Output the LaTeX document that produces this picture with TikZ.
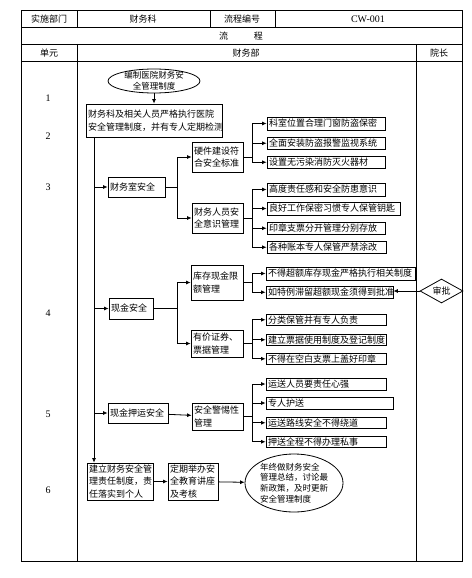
\documentclass[tikz,border=0pt]{standalone}
\usepackage{fontspec}
\setmainfont{Liberation Serif}
\newfontfamily\cn{Noto Sans CJK SC}
\usetikzlibrary{arrows.meta,shapes.geometric}
\newcommand\mybox[6]{%
  \pgfmathsetmacro\bw{#4-#2}\pgfmathsetmacro\bh{#5-#3}\pgfmathsetmacro\tw{#4-#2-4}%
  \node[box, minimum width=\bw pt, minimum height=\bh pt, text width=\tw pt] (#1) at ({(#2+#4)/2},{(#3+#5)/2}) {#6};}
\begin{document}
\begin{tikzpicture}[x=1pt,y=-1pt,
  box/.style={draw, line width=0.8pt, inner sep=0pt, align=left, font=\cn\fontsize{9}{12.5}\selectfont},
  oval/.style={ellipse, draw, line width=0.8pt, inner xsep=0pt, inner ysep=-2.5pt, font=\cn\fontsize{8.5}{10.8}\selectfont},
  arr/.style={-{Latex[length=4.5pt,width=4pt]}, line width=0.8pt},
  ln/.style={line width=0.8pt},
  tb/.style={line width=0.9pt},
  hd/.style={font=\cn\fontsize{9}{11}\selectfont, inner sep=0pt},
  num/.style={font=\fontsize{10}{12}\selectfont, inner sep=0pt}]
\useasboundingbox (0,0) rectangle (471,578);
\fill[white] (0,0) rectangle (471,578);
% table
\draw[tb] (21,10.5) rectangle (462,561);
\draw[tb] (21,27.5) -- (462,27.5) (21,44) -- (462,44) (21,61.5) -- (462,61.5);
\draw[tb] (77,10.5) -- (77,27.5) (210,10.5) -- (210,27.5) (275,10.5) -- (275,27.5);
\draw[tb] (77,44) -- (77,561) (416,44) -- (416,561);
\node[hd] (h1) at (49,19) {实施部门};
\node[hd] (h2) at (143,19) {财务科};
\node[hd] (h3) at (242,19) {流程编号};
\node[hd, font=\fontsize{10}{11}\selectfont] (h4) at (368,19) {CW-001};
\node[hd] (h5) at (241,36) {流\hspace{26pt}程};
\node[hd] (h6) at (49,53) {单元};
\node[hd] (h7) at (246,53) {财务部};
\node[hd] (h8) at (439,53) {院长};
\node[num] (n1) at (48,98) {1};
\node[num] (n2) at (48,136) {2};
\node[num] (n3) at (48,187) {3};
\node[num] (n4) at (48,313) {4};
\node[num] (n5) at (48,414) {5};
\node[num] (n6) at (48,490) {6};
% nodes
\node[oval, minimum width=92pt, minimum height=24pt, align=center] (e1) at (154,81) {编制医院财务安\\全管理制度};
\mybox{b0}{86}{104}{222}{137}{财务科及相关人员严格执行医院\\安全管理制度，并有专人定期检测}
\mybox{fs}{108}{177}{165}{197}{财务室安全}
\mybox{hw}{192}{142}{243}{172}{硬件建设符\\合安全标准}
\mybox{pm}{192}{203}{243}{233}{财务人员安\\全意识管理}
\mybox{a1}{267}{117}{385}{130}{科室位置合理门窗防盗保密}
\mybox{a2}{267}{137}{385}{149.5}{全面安装防盗报警监视系统}
\mybox{a3}{267}{156}{385}{168.5}{设置无污染消防灭火器材}
\mybox{b1}{267}{183}{385}{196}{高度责任感和安全防患意识}
\mybox{b2}{267}{202}{400}{215}{良好工作保密习惯专人保管钥匙}
\mybox{b3}{267}{222}{385}{234.5}{印章支票分开管理分别存放}
\mybox{b4}{267}{241}{386}{253.5}{各种账本专人保管严禁涂改}
\mybox{cs}{109}{298}{153}{319}{现金安全}
\mybox{kc}{191}{265}{243}{300}{库存现金限\\额管理}
\mybox{yj}{191}{330}{243}{357}{有价证券、\\票据管理}
\mybox{c1}{266}{267}{415}{280}{不得超额库存现金严格执行相关制度}
\mybox{c2}{266}{286}{393}{298.5}{如特例滞留超额现金须得到批准}
\node[diamond, draw, line width=0.8pt, aspect=1.8, inner sep=0.5pt, minimum width=43pt, minimum height=24pt, font=\cn\fontsize{9}{11}\selectfont] (sp) at (441.5,291) {审批};
\mybox{d1}{266}{314}{386}{325.5}{分类保管并有专人负责}
\mybox{d2}{266}{334}{386}{345.5}{建立票据使用制度及登记制度}
\mybox{d3}{266}{353}{386}{364.5}{不得在空白支票上盖好印章}
\mybox{ya}{108}{403}{168}{423}{现金押运安全}
\mybox{aq}{192}{403}{243}{430}{安全警惕性\\管理}
\mybox{e1b}{266}{378}{386}{390}{运送人员要责任心强}
\mybox{e2b}{266}{397}{393}{409}{专人护送}
\mybox{e3b}{266}{417}{386}{428.5}{运送路线安全不得绕道}
\mybox{e4b}{266}{436}{386}{447.5}{押送全程不得办理私事}
\mybox{f1}{87}{463}{153}{500}{建立财务安全管\\理责任制度，责\\任落实到个人}
\mybox{f2}{168}{463}{218}{500}{定期举办安\\全教育讲座\\及考核}
\node[oval, minimum width=98pt, minimum height=58pt, align=left] (f3) at (294,483) {年终做财务安全\\管理总结，讨论最\\新政策，及时更新\\安全管理制度};
% connectors
\coordinate (m) at (94,0);
\coordinate (k1) at (177,0);
\coordinate (k2) at (252,0);
\draw[arr] (e1) -- (b0);
\draw[arr] (b0.south -| m) -- (f1.north -| m);
\foreach \t in {fs,cs,ya} \draw[arr] (\t.west -| m) -- (\t.west);
\draw[ln] (fs.east) -- (fs.east -| k1);
\foreach \t in {hw,pm} \draw[arr] (fs.east -| k1) |- (\t.west);
\draw[ln] (cs.east) -- (cs.east -| k1);
\foreach \t in {kc,yj} \draw[arr] (cs.east -| k1) |- (\t.west);
\draw[ln] (hw.east) -- (hw.east -| k2);
\foreach \t in {a1,a2,a3} \draw[arr] (hw.east -| k2) |- (\t.west);
\draw[ln] (pm.east) -- (pm.east -| k2);
\foreach \t in {b1,b2,b3,b4} \draw[arr] (pm.east -| k2) |- (\t.west);
\draw[ln] (kc.east) -- (kc.east -| k2);
\foreach \t in {c1,c2} \draw[arr] (kc.east -| k2) |- (\t.west);
\draw[ln] (yj.east) -- (yj.east -| k2);
\foreach \t in {d1,d2,d3} \draw[arr] (yj.east -| k2) |- (\t.west);
\draw[arr] (ya) -- (aq);
\draw[ln] (aq.east) -- (aq.east -| k2);
\foreach \t in {e1b,e2b,e3b,e4b} \draw[arr] (aq.east -| k2) |- (\t.west);
\draw[arr] (sp.west) -- (sp.west -| c2.east);
\draw[arr] (f1) -- (f2);
\draw[arr] (f2) -- (f3);
\end{tikzpicture}
\end{document}
